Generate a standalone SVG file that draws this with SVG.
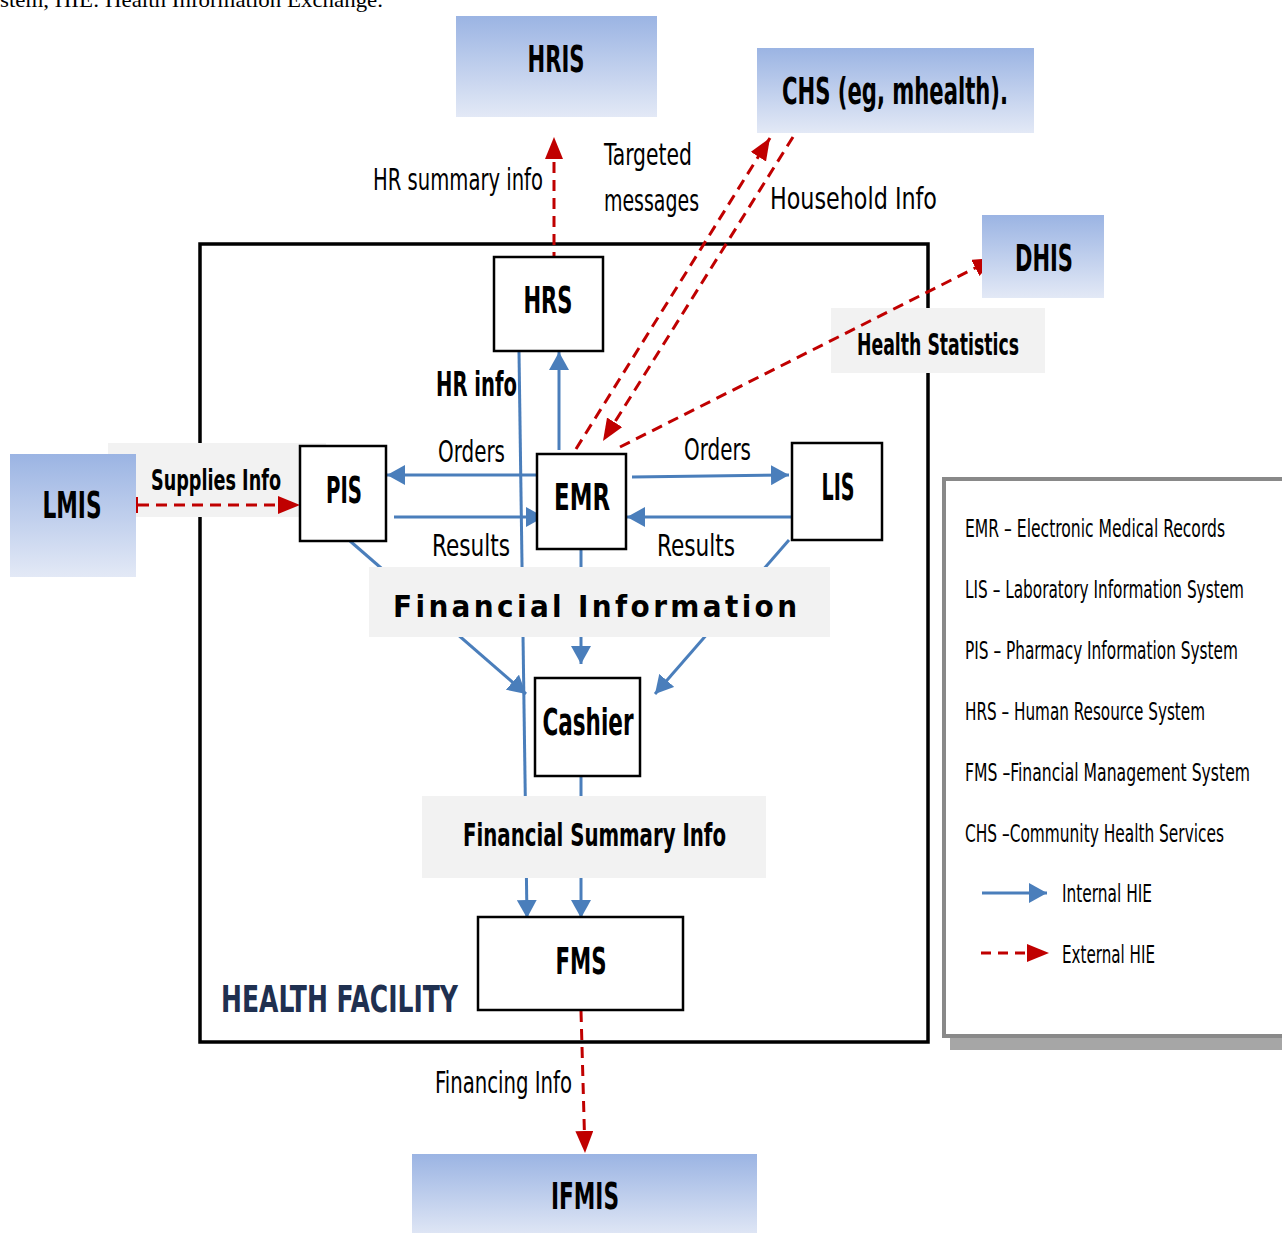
<svg xmlns="http://www.w3.org/2000/svg" width="1282" height="1233" viewBox="0 0 1282 1233">
<defs>
<linearGradient id="ext" x1="0" y1="0" x2="0" y2="1">
<stop offset="0" stop-color="#9bb4e3"/>
<stop offset="1" stop-color="#e3e9f6"/>
</linearGradient>
<marker id="ab" markerUnits="userSpaceOnUse" markerWidth="20" markerHeight="20" refX="18" refY="10" orient="auto">
<path d="M0,0 L18,10 L0,20 z" fill="#4a7ebb"/>
</marker>
<marker id="ar" markerUnits="userSpaceOnUse" markerWidth="24" markerHeight="20" refX="22" refY="9" orient="auto">
<path d="M0,0 L22,9 L0,18 z" fill="#c00000"/>
</marker>
<style>
text{font-family:"Liberation Sans Narrow","DejaVu Sans Condensed","Liberation Sans",sans-serif;fill:#000}
.b{font-weight:bold}
.ext{fill:url(#ext)}
.box{fill:#fff;stroke:#000;stroke-width:2.5}
.bg{fill:#f2f2f2}
.bl{stroke:#4a7ebb;stroke-width:3;fill:none;marker-end:url(#ab)}
.rd{stroke:#c00000;stroke-width:3;fill:none;stroke-dasharray:11 7;marker-end:url(#ar)}
.lg{font-size:24px}
</style>
</defs>
<text x="0" y="7" style="font-family:'Liberation Serif',serif;font-size:22px" textLength="383" lengthAdjust="spacingAndGlyphs">stem, HIE: Health Information Exchange.</text>

<rect id="facility" x="200" y="244" width="728" height="798" fill="none" stroke="#000" stroke-width="3.5"/>

<g id="connectors-internal">
<path class="bl" d="M559,450 L559,352"/>
<path class="bl" d="M519,352 L527,918"/>
<path class="bl" d="M537,475 L387,475"/>
<path class="bl" d="M394,517 L544,517"/>
<path class="bl" d="M632,477 L789,475"/>
<path class="bl" d="M797,517 L627,517"/>
<path class="bl" d="M350,541 L526,694"/>
<path class="bl" d="M789,540 L655,694"/>
<path class="bl" d="M581,549 L581,664"/>
<path class="bl" d="M581,776 L581,918"/>
</g>

<g id="label-backgrounds">
<rect class="bg" x="108" y="443" width="218" height="74"/>
<rect class="bg" x="831" y="308" width="214" height="65"/>
<rect class="bg" x="369" y="567" width="461" height="70"/>
<rect class="bg" x="422" y="796" width="344" height="82"/>
</g>

<g id="connectors-external">
<path class="rd" d="M554,263 L554,137"/>
<path class="rd" d="M576,449 L770,138"/>
<path class="rd" d="M793,137 L603,441"/>
<path class="rd" d="M620,447 L995,258"/>
<path class="rd" d="M138,505 L300,505"/>
<path d="M137,497 L137,513" stroke="#c00000" stroke-width="2"/>
<path class="rd" d="M581,1011 L585,1153"/>
</g>

<g id="HRIS"><rect class="ext" x="456" y="16" width="201" height="101"/><text class="b" x="556" y="72" font-size="38" text-anchor="middle" textLength="57" lengthAdjust="spacingAndGlyphs">HRIS</text></g>
<g id="CHS"><rect class="ext" x="757" y="48" width="277" height="85"/><text class="b" x="895" y="104" font-size="38" text-anchor="middle" textLength="226" lengthAdjust="spacingAndGlyphs">CHS (eg, mhealth).</text></g>
<g id="DHIS"><rect class="ext" x="982" y="215" width="122" height="83"/><text class="b" x="1044" y="271" font-size="38" text-anchor="middle" textLength="58" lengthAdjust="spacingAndGlyphs">DHIS</text></g>
<g id="LMIS"><rect class="ext" x="10" y="454" width="126" height="123"/><text class="b" x="72" y="518" font-size="38" text-anchor="middle" textLength="59" lengthAdjust="spacingAndGlyphs">LMIS</text></g>
<g id="IFMIS"><rect class="ext" x="412" y="1154" width="345" height="85"/><text class="b" x="585" y="1209" font-size="38" text-anchor="middle" textLength="68" lengthAdjust="spacingAndGlyphs">IFMIS</text></g>

<g id="HRS"><rect class="box" x="494" y="257" width="109" height="94"/><text class="b" x="548" y="313" font-size="37" text-anchor="middle" textLength="49" lengthAdjust="spacingAndGlyphs">HRS</text></g>
<g id="PIS"><rect class="box" x="300" y="446" width="86" height="95"/><text class="b" x="344" y="503" font-size="37" text-anchor="middle" textLength="36" lengthAdjust="spacingAndGlyphs">PIS</text></g>
<g id="EMR"><rect class="box" x="537" y="454" width="89" height="95"/><text class="b" x="582" y="510" font-size="37" text-anchor="middle" textLength="56" lengthAdjust="spacingAndGlyphs">EMR</text></g>
<g id="LIS"><rect class="box" x="792" y="443" width="90" height="97"/><text class="b" x="838" y="500" font-size="37" text-anchor="middle" textLength="33" lengthAdjust="spacingAndGlyphs">LIS</text></g>
<g id="Cashier"><rect class="box" x="535" y="678" width="105" height="98"/><text class="b" x="588" y="735" font-size="38" text-anchor="middle" textLength="91" lengthAdjust="spacingAndGlyphs">Cashier</text></g>
<g id="FMS"><rect class="box" x="478" y="917" width="205" height="93"/><text class="b" x="581" y="974" font-size="37" text-anchor="middle" textLength="51" lengthAdjust="spacingAndGlyphs">FMS</text></g>

<g id="labels">
<text x="373" y="190" font-size="30" textLength="170" lengthAdjust="spacingAndGlyphs">HR summary info</text>
<text x="604" y="165" font-size="30" textLength="88" lengthAdjust="spacingAndGlyphs">Targeted</text>
<text x="604" y="211" font-size="30" textLength="95" lengthAdjust="spacingAndGlyphs">messages</text>
<text x="770" y="209" font-size="30" textLength="167" lengthAdjust="spacingAndGlyphs">Household Info</text>
<text class="b" x="857" y="355" font-size="30" textLength="162" lengthAdjust="spacingAndGlyphs">Health Statistics</text>
<text class="b" x="436" y="396" font-size="33" textLength="81" lengthAdjust="spacingAndGlyphs">HR info</text>
<text class="b" x="151" y="490" font-size="28" textLength="130" lengthAdjust="spacingAndGlyphs">Supplies Info</text>
<text x="438" y="462" font-size="30" textLength="67" lengthAdjust="spacingAndGlyphs">Orders</text>
<text x="684" y="460" font-size="30" textLength="67" lengthAdjust="spacingAndGlyphs">Orders</text>
<text x="432" y="556" font-size="30" textLength="78" lengthAdjust="spacingAndGlyphs">Results</text>
<text x="657" y="556" font-size="30" textLength="78" lengthAdjust="spacingAndGlyphs">Results</text>
<text class="b" x="393" y="617" font-size="31" textLength="404" lengthAdjust="spacing">Financial Information</text>
<text class="b" x="463" y="846" font-size="32" textLength="263" lengthAdjust="spacingAndGlyphs">Financial Summary Info</text>
<text class="b" x="221" y="1012" font-size="38" textLength="237" lengthAdjust="spacingAndGlyphs" style="fill:#1f3050">HEALTH FACILITY</text>
<text x="435" y="1093" font-size="30" textLength="137" lengthAdjust="spacingAndGlyphs">Financing Info</text>
</g>

<g id="legend">
<rect x="950" y="485" width="340" height="565" fill="#a6a6a6"/>
<rect x="944" y="479" width="345" height="557" fill="#fff" stroke="#898989" stroke-width="4"/>
<text class="lg" x="965" y="537" textLength="260" lengthAdjust="spacingAndGlyphs">EMR – Electronic Medical Records</text>
<text class="lg" x="965" y="598" textLength="279" lengthAdjust="spacingAndGlyphs">LIS – Laboratory Information System</text>
<text class="lg" x="965" y="659" textLength="273" lengthAdjust="spacingAndGlyphs">PIS – Pharmacy Information System</text>
<text class="lg" x="965" y="720" textLength="240" lengthAdjust="spacingAndGlyphs">HRS – Human Resource System</text>
<text class="lg" x="965" y="781" textLength="285" lengthAdjust="spacingAndGlyphs">FMS –Financial Management System</text>
<text class="lg" x="965" y="842" textLength="259" lengthAdjust="spacingAndGlyphs">CHS –Community Health Services</text>
<path class="bl" d="M982,893 L1047,893"/>
<text class="lg" x="1062" y="902" textLength="90" lengthAdjust="spacingAndGlyphs">Internal HIE</text>
<path class="rd" d="M981,953 L1049,953" style="stroke-dasharray:10 7"/>
<text class="lg" x="1062" y="963" textLength="93" lengthAdjust="spacingAndGlyphs">External HIE</text>
</g>
</svg>
